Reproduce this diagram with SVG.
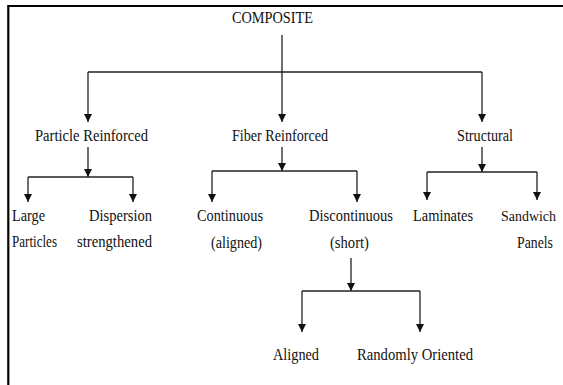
<svg xmlns="http://www.w3.org/2000/svg" width="563" height="385" viewBox="0 0 563 385">
<defs>
<marker id="ah" viewBox="0 0 8 10" refX="8" refY="5" markerWidth="8" markerHeight="10" markerUnits="userSpaceOnUse" orient="auto">
<path d="M0,1 L8,5 L0,9 Z" fill="#111"/>
</marker>
<style>
text{font-family:"Liberation Serif","Times New Roman",serif;font-size:16.5px;fill:#111}
.ln{stroke:#222;stroke-width:1.3;fill:none}
.ar{stroke:#222;stroke-width:1.3;fill:none;marker-end:url(#ah)}
.frame{stroke:#000;stroke-width:2.2;fill:none}
</style>
</defs>
<rect width="563" height="385" fill="#fff"/>
<path class="frame" d="M8.3,385 L8.3,6 L563,6"/>
<g id="connectors">
<path class="ln" d="M282,35 L282,72"/>
<path class="ln" d="M88,72 L482,72"/>
<path class="ar" d="M88,72 L88,122"/>
<path class="ar" d="M282,72 L282,122"/>
<path class="ar" d="M482,72 L482,122"/>
<path class="ar" d="M88,147 L88,177"/>
<path class="ln" d="M28,177 L133,177"/>
<path class="ar" d="M28,177 L28,202"/>
<path class="ar" d="M133,177 L133,202"/>
<path class="ar" d="M282,147 L282,171"/>
<path class="ln" d="M212,171 L357,171"/>
<path class="ar" d="M212,171 L212,202"/>
<path class="ar" d="M357,171 L357,202"/>
<path class="ar" d="M482,147 L482,172"/>
<path class="ln" d="M427,172 L537,172"/>
<path class="ar" d="M427,172 L427,200"/>
<path class="ar" d="M537,172 L537,200"/>
<path class="ar" d="M351,258 L351,291"/>
<path class="ln" d="M302,291 L420,291"/>
<path class="ar" d="M302,291 L302,332"/>
<path class="ar" d="M420,291 L420,332"/>
</g>
<g id="composite"><text x="232" y="23" textLength="81" lengthAdjust="spacingAndGlyphs">COMPOSITE</text></g>
<g id="particle"><text x="35" y="141" textLength="113" lengthAdjust="spacingAndGlyphs">Particle Reinforced</text></g>
<g id="fiber"><text x="232" y="141" textLength="96" lengthAdjust="spacingAndGlyphs">Fiber Reinforced</text></g>
<g id="structural"><text x="457" y="141" textLength="56" lengthAdjust="spacingAndGlyphs">Structural</text></g>
<g id="large"><text x="12" y="221" textLength="33" lengthAdjust="spacingAndGlyphs">Large</text><text x="12" y="247" textLength="45" lengthAdjust="spacingAndGlyphs">Particles</text></g>
<g id="dispersion"><text x="89" y="221" textLength="63" lengthAdjust="spacingAndGlyphs">Dispersion</text><text x="77" y="247" textLength="75" lengthAdjust="spacingAndGlyphs">strengthened</text></g>
<g id="continuous"><text x="197" y="221" textLength="66" lengthAdjust="spacingAndGlyphs">Continuous</text><text x="211" y="248" textLength="51" lengthAdjust="spacingAndGlyphs">(aligned)</text></g>
<g id="discontinuous"><text x="309" y="221" textLength="84" lengthAdjust="spacingAndGlyphs">Discontinuous</text><text x="330" y="248" textLength="39" lengthAdjust="spacingAndGlyphs">(short)</text></g>
<g id="laminates"><text x="413" y="221" textLength="60" lengthAdjust="spacingAndGlyphs">Laminates</text></g>
<g id="sandwich"><text x="501" y="221" style="font-size:15px" textLength="55" lengthAdjust="spacingAndGlyphs">Sandwich</text><text x="517" y="248" textLength="36" lengthAdjust="spacingAndGlyphs">Panels</text></g>
<g id="aligned"><text x="273" y="360" textLength="46" lengthAdjust="spacingAndGlyphs">Aligned</text></g>
<g id="random"><text x="357" y="360" textLength="116" lengthAdjust="spacingAndGlyphs">Randomly Oriented</text></g>
</svg>
